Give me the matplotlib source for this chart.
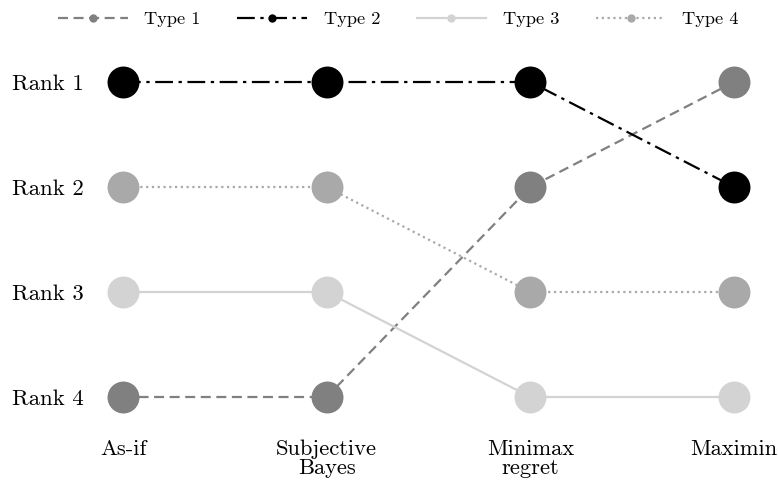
import matplotlib
matplotlib.use('Agg')
import matplotlib.pyplot as plt
from matplotlib.lines import Line2D

# Methods (x axis) and the rank each type gets under each method.
methods = ['As-if', 'Subjective\nBayes', 'Minimax\nregret', 'Maximin']
rank_labels = ['Rank 1', 'Rank 2', 'Rank 3', 'Rank 4']
type_names = ['Type 1', 'Type 2', 'Type 3', 'Type 4']
type1_ranks = [4, 4, 2, 1]
type2_ranks = [1, 1, 1, 2]
type3_ranks = [3, 3, 4, 4]
type4_ranks = [2, 2, 3, 3]

plt.rcParams['font.family'] = 'serif'
plt.rcParams['font.serif'] = ['cmr10']
plt.rcParams['mathtext.fontset'] = 'cm'
plt.rcParams['axes.unicode_minus'] = False

styles = [
    dict(color='#808080', linestyle=(0, (4.5, 2.5))),
    dict(color='black', linestyle=(0, (8, 2.5, 1.5, 2.5))),
    dict(color='#d3d3d3', linestyle='-'),
    dict(color='#a9a9a9', linestyle=(0, (1, 1.6))),
]
all_ranks = [type1_ranks, type2_ranks, type3_ranks, type4_ranks]

fig = plt.figure(figsize=(7.78, 4.88), dpi=100)
ax = fig.add_axes([0.1188, 0.1004, 0.864, 0.8176])

x = list(range(len(methods)))
for ranks, style in zip(all_ranks, styles):
    ax.plot(x, ranks, linewidth=1.6, marker='o', markersize=23,
            markeredgewidth=0, **style)

ax.set_xlim(-0.15, 3.15)
ax.set_ylim(4.4, 0.6)
ax.set_xticks(x)
ax.set_xticklabels(methods, fontsize=16.2, linespacing=1.0)
ax.set_yticks([1, 2, 3, 4])
ax.set_yticklabels(rank_labels, fontsize=16.4)
ax.tick_params(length=0)
ax.tick_params(axis='y', pad=6)
ax.tick_params(axis='x', pad=0)
for spine in ax.spines.values():
    spine.set_visible(False)

handles = [Line2D([], [], linewidth=1.6, marker='o', markersize=6,
                  markeredgewidth=0, **style) for style in styles]
fig.legend(handles, type_names, loc='upper center', bbox_to_anchor=(0.512, 1.01),
           ncol=4, frameon=False, fontsize=13.2, handlelength=3.8,
           handletextpad=0.9, columnspacing=2.0)

fig.savefig('out.png', dpi=100)
